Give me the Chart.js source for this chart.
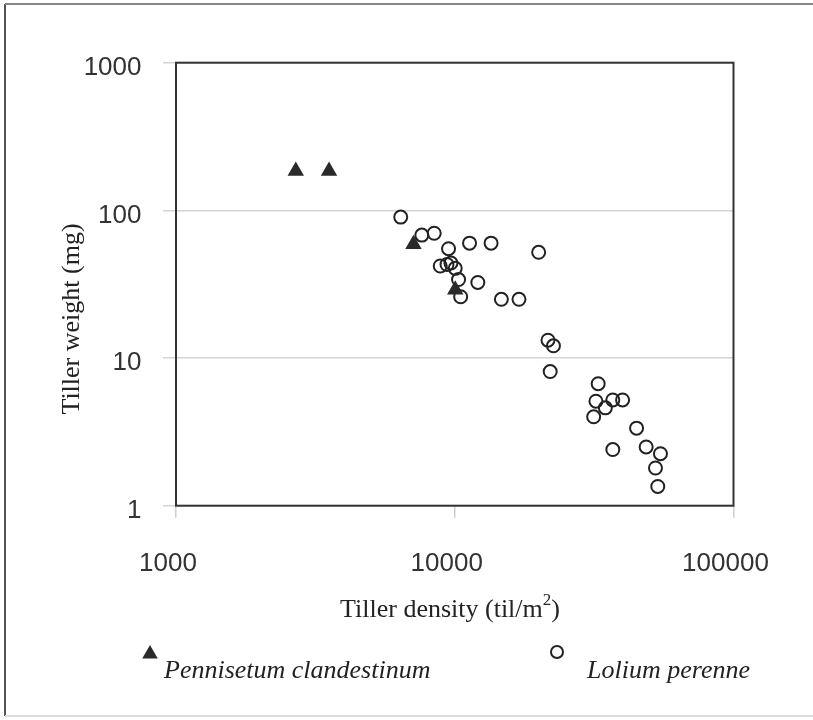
<!DOCTYPE html>
<html>
<head>
<meta charset="utf-8">
<script src="https://cdn.jsdelivr.net/npm/chart.js@4.4.1/dist/chart.umd.min.js"></script>
<style>
  html, body { margin: 0; padding: 0; background: #fff; }
</style>
</head>
<body>
<canvas id="tillers" width="813" height="720"></canvas>
<script>
// Tiller weight vs tiller density, log-log
const pennisetumDensity = [2690, 3540, 7110, 10040];
const pennisetumWeight  = [185, 185, 59, 29];

const loliumDensity = [6400, 7620, 8440, 9500, 11300, 13500, 20000, 8870, 9380, 9690, 10040,
                       10320, 12100, 10500, 14700, 17000, 21600, 22600, 22000, 32700, 32100,
                       34700, 36900, 40000, 31500, 44900, 36900, 48600, 54700, 52500, 53500];
const loliumWeight  = [90, 68, 70, 55, 60, 60, 52, 42, 43, 44, 40.5,
                       34, 32.5, 26, 25, 25, 13.2, 12.1, 8.1, 6.7, 5.1,
                       4.6, 5.2, 5.2, 4.0, 3.35, 2.4, 2.5, 2.25, 1.8, 1.35];

const xTicks = [1000, 10000, 100000];
const yTicks = [1, 10, 100, 1000];

const xTitle = 'Tiller density (til/m';
const yTitle = 'Tiller weight (mg)';
const seriesNames = ['Pennisetum clandestinum', 'Lolium perenne'];

const SANS = '"Liberation Sans", Arial, sans-serif';
const SERIF = '"Liberation Serif", "Times New Roman", serif';
const INK = '#222';

const toPoints = (xs, ys) => xs.map((x, i) => ({ x: x, y: ys[i] }));

// page border, plot frame, axis titles and the legend under the plot
const paperText = {
    id: 'paperText',
    beforeDraw(chart) {
        const ctx = chart.ctx;
        ctx.save();
        ctx.fillStyle = '#fff';
        ctx.fillRect(0, 0, chart.width, chart.height);
        ctx.lineWidth = 2;
        ctx.strokeStyle = '#555';
        ctx.beginPath(); ctx.moveTo(5, 4); ctx.lineTo(5, 716); ctx.stroke();
        ctx.strokeStyle = '#888';
        ctx.beginPath(); ctx.moveTo(5, 4); ctx.lineTo(813, 4); ctx.stroke();
        ctx.strokeStyle = '#ddd';
        ctx.beginPath(); ctx.moveTo(5, 716); ctx.lineTo(813, 716); ctx.stroke();
        ctx.restore();
    },
    beforeDatasetsDraw(chart) {
        const { ctx, chartArea: a } = chart;
        ctx.save();
        ctx.strokeStyle = '#333';
        ctx.lineWidth = 2;
        ctx.strokeRect(a.left, a.top, a.right - a.left, a.bottom - a.top);
        ctx.restore();
    },
    afterDraw(chart) {
        const ctx = chart.ctx;
        ctx.save();
        ctx.fillStyle = INK;
        ctx.textBaseline = 'alphabetic';

        // y title
        ctx.font = '26px ' + SERIF;
        ctx.save();
        ctx.translate(79, 319);
        ctx.rotate(-Math.PI / 2);
        ctx.textAlign = 'center';
        ctx.fillText(yTitle, 0, 0);
        ctx.restore();

        // x title with superscript 2
        ctx.textAlign = 'left';
        const supFont = '17px ' + SERIF;
        const w1 = ctx.measureText(xTitle).width;
        ctx.font = supFont;
        const w2 = ctx.measureText('2').width;
        ctx.font = '26px ' + SERIF;
        const w3 = ctx.measureText(')').width;
        let x0 = 450 - (w1 + w2 + w3) / 2;
        ctx.fillText(xTitle, x0, 617);
        ctx.font = supFont;
        ctx.fillText('2', x0 + w1, 605);
        ctx.font = '26px ' + SERIF;
        ctx.fillText(')', x0 + w1 + w2, 617);

        // legend
        ctx.fillStyle = '#2a2a2a';
        Chart.helpers.drawPoint(ctx, { pointStyle: 'triangle', radius: 9, rotation: 0, borderWidth: 0 }, 150, 654);
        ctx.fillStyle = '#fff';
        ctx.strokeStyle = INK;
        ctx.lineWidth = 2;
        Chart.helpers.drawPoint(ctx, { pointStyle: 'circle', radius: 6, rotation: 0, borderWidth: 2 }, 557, 652);

        ctx.fillStyle = INK;
        ctx.font = 'italic 26px ' + SERIF;
        ctx.fillText(seriesNames[0], 164, 678);
        ctx.fillText(seriesNames[1], 587, 678);
        ctx.restore();
    }
};

new Chart(document.getElementById('tillers').getContext('2d'), {
    type: 'scatter',
    data: {
        datasets: [
            {
                label: seriesNames[0],
                data: toPoints(pennisetumDensity, pennisetumWeight),
                pointStyle: 'triangle',
                pointRadius: 9.5,
                backgroundColor: '#2a2a2a',
                borderColor: '#2a2a2a',
                borderWidth: 0
            },
            {
                label: seriesNames[1],
                data: toPoints(loliumDensity, loliumWeight),
                pointStyle: 'circle',
                pointRadius: 6.5,
                backgroundColor: 'rgba(255,255,255,0)',
                borderColor: INK,
                borderWidth: 2
            }
        ]
    },
    options: {
        responsive: false,
        animation: false,
        devicePixelRatio: 1,
        layout: { padding: { left: 0, top: 62.7, right: 79.5, bottom: 0 } },
        plugins: { legend: { display: false }, tooltip: { enabled: false } },
        scales: {
            x: {
                type: 'logarithmic',
                min: 1000,
                max: 100000,
                afterBuildTicks: s => { s.ticks = xTicks.map(v => ({ value: v })); },
                afterFit: s => { s.height = 720 - 505.7; },
                border: { display: false },
                grid: { drawOnChartArea: false, drawTicks: true, tickLength: 12, color: '#cfcfcf', lineWidth: 1.5 },
                ticks: {
                    autoSkip: false, maxRotation: 0, padding: 31, labelOffset: -8,
                    color: '#333', font: { family: SANS, size: 26 },
                    callback: v => String(v)
                }
            },
            y: {
                type: 'logarithmic',
                min: 1,
                max: 1000,
                afterBuildTicks: s => { s.ticks = yTicks.map(v => ({ value: v })); },
                afterFit: s => { s.width = 176; },
                border: { display: false },
                grid: { drawOnChartArea: true, drawTicks: true, tickLength: 13, color: '#d4d4d4', lineWidth: 1.5 },
                ticks: {
                    padding: 21.5, labelOffset: 5,
                    color: '#333', font: { family: SANS, size: 26 },
                    callback: v => String(v)
                }
            }
        }
    },
    plugins: [paperText]
});
</script>
</body>
</html>
